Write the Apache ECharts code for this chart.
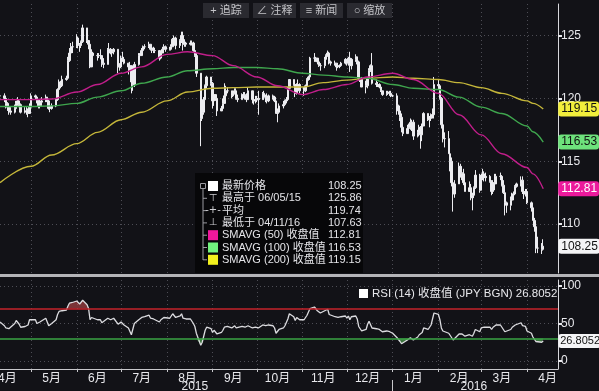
<!DOCTYPE html>
<html><head><meta charset="utf-8">
<script src="https://cdn.jsdelivr.net/npm/echarts@6/dist/echarts.min.js"></script>
<style>html,body{margin:0;padding:0;background:#121217;}#c{width:599px;height:391px;}</style>
</head><body><div id="c"></div>
<script>
// ---------- DATA ----------
const monthKeys = ['2015-04','2015-05','2015-06','2015-07','2015-08','2015-09','2015-10','2015-11','2015-12','2016-01','2016-02','2016-03','2016-04'];
const firstDayOfFirstMonth = 10;

const closes = [
 [120.2,120.0,119.6,119.3,119.0,118.9,119.2,119.6,119.8,119.5,118.9,119.0,119.0,118.8,119.3],
 [120.2,120.1,119.8,119.4,119.7,119.8,120.1,119.8,119.2,119.2,119.4,119.9,120.7,121.3,121.0,121.5,121.6,123.0,123.6,124.1,124.1],
 [124.8,124.3,124.2,124.5,125.6,124.6,124.3,122.5,123.6,123.4,123.4,123.4,123.4,122.8,122.7,123.9,123.9,123.6,123.7,123.9,122.5,122.5],
 [123.2,123.1,122.8,122.5,122.6,121.3,121.1,122.7,123.4,123.4,123.8,124.1,124.1,124.3,123.9,124.0,123.8,123.8,123.2,123.6,123.9,124.1,123.9],
 [123.9,124.1,124.7,124.8,124.2,124.6,125.0,124.3,124.4,124.3,124.4,124.4,123.8,123.4,122.0,118.4,118.9,119.9,121.0,121.7,121.2],
 [119.8,120.3,120.0,119.0,119.2,119.6,120.2,120.6,120.6,120.2,120.4,120.6,120.0,119.9,120.3,120.3,120.2,119.9,120.6,119.9,119.8,119.9],
 [120.0,119.9,120.4,120.1,120.1,119.8,120.2,120.1,119.8,118.8,118.9,119.4,119.5,119.8,119.9,120.8,121.5,121.1,120.4,121.1,121.1,120.6],
 [120.6,121.0,121.5,121.7,123.2,123.2,123.2,122.9,122.6,122.6,123.1,123.4,123.6,122.9,122.8,122.8,122.5,122.6,122.6,122.8,123.1],
 [122.8,123.2,122.6,123.1,123.3,122.9,121.6,121.5,120.9,121.0,121.6,122.2,122.6,121.2,121.1,121.1,120.9,120.6,120.3,120.4,120.5,120.4,120.2],
 [120.2,119.4,119.0,118.5,117.7,117.2,117.6,117.7,118.1,118.1,117.0,117.3,117.7,117.1,117.8,118.8,118.3,118.4,118.7,118.7,121.1],
 [121.0,120.0,117.9,116.8,116.8,115.6,115.0,113.3,112.4,113.2,114.6,114.1,114.0,113.3,112.6,112.9,112.1,112.3,112.9,113.9,112.7],
 [113.6,114.0,113.7,113.8,113.4,112.6,113.3,113.2,113.8,113.8,113.1,112.5,111.7,111.5,111.9,112.4,112.4,113.0,113.2,113.5,112.6,112.4,112.6],
 [111.7,111.3,110.3,109.8,108.1,108.1,108.0,108.25]
];
const highs = [
 [120.9,120.4,120.1,119.7,119.4,119.3,119.5,119.8,120.1,119.9,119.6,119.3,119.3,119.2,119.6],
 [120.4,120.3,120.2,119.9,119.9,120.1,120.3,120.1,119.9,119.4,119.6,120.0,120.8,121.5,121.4,121.8,121.8,123.3,124.0,124.4,124.5],
 [125.1,124.9,124.4,124.6,125.86,125.5,124.6,124.4,123.9,123.7,123.6,123.6,123.9,123.4,123.2,124.0,124.4,124.0,123.9,124.0,123.7,122.8],
 [123.4,123.7,123.3,122.8,122.9,122.6,121.7,122.9,123.6,123.6,124.0,124.2,124.3,124.5,124.3,124.1,124.1,124.0,123.8,123.7,124.1,124.3,124.2],
 [124.1,124.3,124.8,125.0,124.9,124.7,125.3,125.3,124.7,124.5,124.6,124.6,124.5,124.0,123.6,122.0,119.4,120.1,121.1,121.8,121.7],
 [121.3,120.5,120.3,120.0,119.4,120.0,121.2,121.0,120.9,120.6,120.6,120.8,120.8,120.3,120.4,120.5,120.5,120.4,120.9,120.6,120.0,120.2],
 [120.2,120.6,120.5,120.6,120.3,120.4,120.3,120.3,120.2,119.8,119.2,119.6,119.8,119.9,120.1,120.9,121.5,121.4,121.2,121.2,121.5,121.2],
 [120.9,121.1,121.6,121.8,123.3,123.6,123.3,123.2,122.9,122.8,123.3,123.5,123.8,123.7,123.0,123.0,122.8,122.8,122.7,122.9,123.2],
 [123.1,123.3,123.7,123.2,123.5,123.3,123.0,121.9,121.7,121.4,121.7,122.4,122.7,123.6,121.5,121.3,121.2,120.9,120.5,120.6,120.6,120.6,120.6],
 [120.3,120.4,119.5,119.1,118.8,118.1,117.9,118.0,118.4,118.3,118.3,117.5,117.9,117.8,118.0,118.9,118.8,118.6,118.8,119.2,121.7],
 [121.5,121.1,120.1,118.0,117.3,117.4,115.8,115.3,113.5,113.5,114.9,114.8,114.4,114.4,113.4,113.4,113.2,112.5,113.0,114.3,114.0],
 [113.9,114.4,114.2,114.1,113.9,113.5,113.5,114.0,114.0,114.1,113.9,113.5,112.5,111.8,112.2,112.5,112.6,113.1,113.3,113.8,113.8,112.9,112.8],
 [112.8,111.8,111.4,110.5,110.0,109.0,108.5,108.8]
];
const lows = [
 [119.8,119.7,119.2,119.0,118.7,118.7,118.8,119.1,119.4,119.3,118.8,118.8,118.7,118.5,118.8],
 [119.2,119.9,119.6,119.2,119.2,119.4,119.7,119.7,119.1,118.9,119.1,119.3,119.8,120.6,120.8,120.9,121.4,121.6,122.9,123.5,123.6],
 [124.0,124.0,123.7,124.0,124.4,124.4,123.9,122.4,122.5,123.2,123.0,123.2,123.1,122.5,122.4,123.1,123.6,123.5,123.3,123.5,122.0,122.2],
 [122.4,122.9,122.7,121.9,122.2,120.4,120.6,120.9,122.6,123.1,123.4,123.6,123.9,124.0,123.8,123.6,123.6,123.6,123.0,123.1,123.6,123.7,123.7],
 [123.8,123.8,124.1,124.6,123.9,124.0,124.4,123.8,124.1,124.1,124.2,124.2,123.7,123.3,121.7,116.2,118.2,118.7,119.9,120.8,121.0],
 [119.2,119.4,119.8,118.6,119.0,119.1,119.6,120.0,120.4,120.0,120.1,120.3,119.9,119.7,119.9,120.0,119.9,119.7,119.9,119.6,119.5,119.6],
 [119.7,118.7,119.9,119.9,119.7,119.6,119.7,119.9,119.7,118.8,118.1,118.9,119.2,119.4,119.6,119.8,120.8,121.0,120.1,120.3,120.8,120.4],
 [120.2,120.5,120.9,121.4,121.5,122.9,122.9,122.7,122.5,122.2,122.4,123.0,123.3,122.7,122.6,122.6,122.2,122.4,122.4,122.5,122.7],
 [122.6,122.6,122.1,122.3,122.9,122.7,121.4,121.3,120.9,120.4,120.8,121.4,122.1,121.1,120.9,120.9,120.8,120.5,120.2,120.2,120.3,120.2,120.1],
 [120.1,118.7,118.7,118.2,117.3,117.0,117.2,117.3,117.5,117.4,116.7,116.9,117.2,116.0,116.6,117.8,118.2,117.7,118.2,118.4,118.4],
 [120.7,119.9,117.6,116.5,116.1,115.6,114.2,113.0,111.0,112.1,113.5,113.7,113.5,113.1,112.6,112.6,111.9,111.1,112.1,112.8,112.5],
 [112.8,113.5,113.4,113.4,113.3,112.3,112.4,112.7,113.2,113.5,113.0,112.4,110.7,110.9,111.1,111.8,111.9,112.3,112.9,113.0,112.4,112.0,112.2],
 [111.6,111.0,110.3,109.4,107.7,107.7,107.63,107.9]
];
const rsi = [
 [52,47,44,42,43,42,50,54,55,49,45,46,44,48,55],
 [56,55,50,49,52,53,57,55,47,46,50,55,62,66,64,67,68,73,77,79,78],
 [80,78,76,77,81,75,70,55,58,56,55,54,55,51,50,57,57,55,55,57,49,48],
 [52,51,48,44,45,35,35,50,55,55,58,60,59,61,57,58,56,56,52,55,57,58,57],
 [57,59,63,63,58,60,63,57,57,56,56,55,50,46,37,21,25,33,41,45,43],
 [38,41,40,36,38,41,45,46,46,44,45,47,44,44,46,46,45,44,47,44,44,45],
 [45,44,48,47,47,45,48,47,44,37,38,42,44,47,48,56,63,59,54,58,58,55],
 [55,58,61,63,70,72,70,67,65,64,67,68,69,62,60,59,57,58,58,59,60],
 [57,60,55,59,60,56,46,44,40,42,49,53,55,44,43,43,42,40,39,40,40,39,38],
 [37,31,29,26,23,24,28,29,31,31,28,32,35,33,38,44,42,44,48,50,64],
 [62,55,44,40,40,37,35,31,28,30,36,35,36,35,33,35,33,33,37,42,39],
 [44,46,45,46,45,42,45,45,48,48,45,42,39,39,42,45,45,48,49,51,47,45,46],
 [40,37,32,30,26,26,25,26.8052]
];
const smaDates = ['2015-04-10','2015-05-01','2015-05-15','2015-06-01','2015-06-15','2015-07-01','2015-07-15','2015-08-01','2015-08-15','2015-09-01','2015-09-15','2015-10-01','2015-10-15','2015-11-01','2015-11-15','2015-12-01','2015-12-15','2016-01-01','2016-01-15','2016-02-01','2016-02-15','2016-03-01','2016-03-15','2016-04-01','2016-04-05','2016-04-12'];
const sma50  = [119.9,119.9,119.95,120.5,121.1,122.0,122.5,123.5,123.7,123.4,122.6,121.7,121.0,120.3,120.7,121.1,121.7,122.0,121.5,120.4,118.7,117.1,115.6,114.5,114.0,112.81];
const sma100 = [119.35,119.35,119.4,119.6,120.1,120.6,121.2,121.7,122.2,122.35,122.45,122.45,122.35,122.0,121.85,121.7,121.6,121.1,120.8,120.7,120.1,119.3,118.8,117.8,117.35,116.53];
const sma200 = [113.3,114.6,115.5,116.4,117.3,118.3,118.9,119.8,120.5,120.8,120.85,120.9,120.9,120.9,121.25,121.45,121.6,121.7,121.6,121.5,121.25,120.85,120.4,119.8,119.6,119.15];

const priceTicks = [110,115,120,125];
const rsiTicks = [0,50,100];
const monthStarts = ['2015-05-01','2015-06-01','2015-07-01','2015-08-01','2015-09-01','2015-10-01','2015-11-01','2015-12-01','2016-01-01','2016-02-01','2016-03-01','2016-04-01'];
const monthLabelDates = ['2015-04-15','2015-05-15','2015-06-15','2015-07-15','2015-08-15','2015-09-15','2015-10-15','2015-11-15','2015-12-15','2016-01-15','2016-02-15','2016-03-15','2016-04-15'];
const monthLabels = ['4月','5月','6月','7月','8月','9月','10月','11月','12月','1月','2月','3月','4月'];
const yearLabelDates = ['2015-08-20','2016-02-25'];
const yearLabels = ['2015','2016'];
const yearBoundary = ['2016-01-01'];
const axisMin = '2015-04-10', axisMax = '2016-04-22';

// ---------- BUILD ----------
function ts(s){const p=s.split('-').map(Number);return new Date(p[0],p[1]-1,p[2]).getTime();}
function tradingDays(key,startDay,n){
  const p=key.split('-').map(Number);const out=[];let d=startDay;
  while(out.length<n){const dt=new Date(p[0],p[1]-1,d);if(dt.getMonth()!==p[1]-1)break;const w=dt.getDay();if(w!==0&&w!==6)out.push(dt.getTime());d++;}
  return out;
}
const candle=[], rsiData=[], rsiHi=[], rsiLo=[];
let prev=null, lastT=0, lastClose=0, lastRsi=0;
monthKeys.forEach((k,mi)=>{
  const days=tradingDays(k, mi===0?firstDayOfFirstMonth:1, closes[mi].length);
  days.forEach((t,j)=>{
    const c=closes[mi][j]; const o=prev==null?c:prev;
    const lo=Math.min(lows[mi][j],o,c), hi=Math.max(highs[mi][j],o,c);
    candle.push([t,o,c,lo,hi]); prev=c; lastT=t; lastClose=c;
    const r=rsi[mi][j]; rsiData.push([t,r]); rsiHi.push([t,Math.max(r,70)]); rsiLo.push([t,Math.min(r,30)]); lastRsi=r;
  });
});
const smaSeries=(vals)=>smaDates.map((d,i)=>[ts(d),vals[i]]);
const monthLabelTs=monthLabelDates.map(ts), yearLabelTs=yearLabelDates.map(ts);

const gridLine={show:true,lineStyle:{color:'#4d4d55',type:[1,3],width:1}};
const tag=(bg,fg)=>({show:true,formatter:p=>(Array.isArray(p.value)?p.value[1]:p.value).toFixed(2),backgroundColor:bg,color:fg,fontSize:12,fontFamily:'Liberation Sans, Arial',padding:[2,2,1,3],borderRadius:3,distance:15});

const chart=echarts.init(document.getElementById('c'),null,{renderer:'canvas'});
const legendRows=[
 {icon:'sq',color:'#ffffff',text:'最新价格',value:lastClose.toFixed(2)},
 {icon:'⊤',text:'最高于 06/05/15',value:'125.86'},
 {icon:'-+-',text:'平均',value:'119.74'},
 {icon:'⊥',text:'最低于 04/11/16',value:'107.63'},
 {icon:'sq',color:'#f0189c',text:'SMAVG (50) 收盘值',value:'112.81'},
 {icon:'sq',color:'#72f27e',text:'SMAVG (100) 收盘值',value:'116.53'},
 {icon:'sq',color:'#f2f01e',text:'SMAVG (200) 收盘值',value:'119.15'}
];
const fontCJK='"Liberation Sans","Noto Sans CJK SC",sans-serif';
const g=[];
g.push({type:'rect',shape:{x:0,y:274,width:599,height:3},style:{fill:'#b4b4b8'},z:10});
[['+ 追踪',203,46],['∠ 注释',253,43],['≡ 新闻',300,43],['○ 缩放',347,45]].forEach(b=>{
  g.push({type:'rect',shape:{x:b[1],y:3,width:b[2],height:15},style:{fill:'#2a2a30'},z:10});
  g.push({type:'text',x:b[1]+b[2]/2,y:11,style:{text:b[0],fill:'#c4c4c8',font:'11px '+fontCJK,align:'center',verticalAlign:'middle'},z:11});
});
g.push({type:'rect',shape:{x:195,y:173,width:168,height:100},style:{fill:'#070709'},z:10});
g.push({type:'rect',shape:{x:200.5,y:183.5,width:5,height:5},style:{fill:'none',stroke:'#9a9aa0',lineWidth:1},z:11});
g.push({type:'line',shape:{x1:203,y1:189,x2:203,y2:260},style:{stroke:'#9a9aa0',lineWidth:1},z:11});
legendRows.forEach((r,i)=>{
  const y=186+i*12.3;
  if(i>0) g.push({type:'line',shape:{x1:203,y1:y,x2:207,y2:y},style:{stroke:'#9a9aa0',lineWidth:1},z:11});
  if(r.icon==='sq') g.push({type:'rect',shape:{x:208,y:y-5,width:10,height:10},style:{fill:r.color},z:11});
  else g.push({type:'text',x:213,y:y,style:{text:r.icon,fill:'#d0d0d4',font:'10px "DejaVu Sans"',align:'center',verticalAlign:'middle'},z:11});
  g.push({type:'text',x:222,y:y,style:{text:r.text,fill:'#e4e4e8',font:'11px '+fontCJK,verticalAlign:'middle'},z:11});
  g.push({type:'text',x:328,y:y,style:{text:r.value,fill:'#e4e4e8',font:'11px '+fontCJK,verticalAlign:'middle'},z:11});
});
g.push({type:'rect',shape:{x:359,y:289,width:9,height:9},style:{fill:'#ffffff'},z:11});
g.push({type:'text',x:372,y:294,style:{text:'RSI (14) 收盘值 (JPY BGN) '+lastRsi,fill:'#e8e8ec',font:'11.5px '+fontCJK,verticalAlign:'middle'},z:11});

const xBase={type:'value',min:ts(axisMin),max:ts(axisMax),scale:true};
chart.setOption({
  animation:false,
  backgroundColor:'#121217',
  grid:[
    {left:0,right:41,top:4,height:269,outerBoundsMode:'none',containLabel:false},
    {left:0,right:41,top:280,height:89,outerBoundsMode:'none',containLabel:false}
  ],
  xAxis:[
    Object.assign({},xBase,{gridIndex:0,axisLine:{show:false},axisLabel:{show:false},axisTick:{show:false,customValues:monthStarts.map(ts)},splitLine:gridLine}),
    Object.assign({},xBase,{gridIndex:1,axisLine:{show:true,onZero:false,lineStyle:{color:'#c8c8cc',width:1}},
      axisTick:{show:true,length:3,inside:false,customValues:monthStarts.map(ts),lineStyle:{color:'#c8c8cc'}},
      axisLabel:{show:true,customValues:monthLabelTs,color:'#e8e8ec',fontSize:12,margin:4,fontFamily:fontCJK,
        formatter:v=>{const i=monthLabelTs.indexOf(v);return i>=0?monthLabels[i]:'';},hideOverlap:false},
      splitLine:gridLine}),
    Object.assign({},xBase,{gridIndex:1,position:'bottom',offset:11,axisLine:{show:false,onZero:false},
      axisTick:{show:true,length:14,customValues:yearBoundary.map(ts),lineStyle:{color:'#c8c8cc'}},
      axisLabel:{show:true,customValues:yearLabelTs,color:'#e8e8ec',fontSize:12,margin:1,fontFamily:fontCJK,
        formatter:v=>{const i=yearLabelTs.indexOf(v);return i>=0?yearLabels[i]:'';}},
      splitLine:{show:false}})
  ],
  yAxis:[
    {gridIndex:0,type:'value',position:'right',min:106.12,max:127.5,
      axisLine:{show:true,lineStyle:{color:'#d8d8dc',width:1}},
      axisTick:{show:true,length:4,customValues:priceTicks,lineStyle:{color:'#e8e8ec',width:2}},
      axisLabel:{show:true,customValues:priceTicks,color:'#e8e8ec',fontSize:12,margin:3,fontFamily:'Liberation Sans, Arial'},
      splitLine:gridLine},
    {gridIndex:1,type:'value',position:'right',min:-10.7,max:108,
      axisLine:{show:true,lineStyle:{color:'#d8d8dc',width:1}},
      axisTick:{show:true,length:4,customValues:rsiTicks,lineStyle:{color:'#e8e8ec',width:2}},
      axisLabel:{show:true,customValues:rsiTicks,color:'#e8e8ec',fontSize:12,margin:3,fontFamily:'Liberation Sans, Arial'},
      splitLine:gridLine}
  ],
  series:[
    {type:'line',name:'SMA200',xAxisIndex:0,yAxisIndex:0,data:smaSeries(sma200),showSymbol:false,smooth:0.35,smoothMonotone:'x',
      lineStyle:{color:'#c4b63a',width:1.4},endLabel:tag('#f2ee3c','#111')},
    {type:'line',name:'SMA100',xAxisIndex:0,yAxisIndex:0,data:smaSeries(sma100),showSymbol:false,smooth:0.35,smoothMonotone:'x',
      lineStyle:{color:'#3fa64e',width:1.4},endLabel:tag('#6ee27c','#111')},
    {type:'line',name:'SMA50',xAxisIndex:0,yAxisIndex:0,data:smaSeries(sma50),showSymbol:false,smooth:0.35,smoothMonotone:'x',
      lineStyle:{color:'#c01e8a',width:1.4},endLabel:tag('#ec1a9c','#fff')},
    {type:'candlestick',name:'Price',xAxisIndex:0,yAxisIndex:0,data:candle,encode:{x:0,y:[1,2,3,4]},barWidth:2,
      itemStyle:{color:'#ececf0',color0:'#ececf0',borderColor:'#ececf0',borderColor0:'#ececf0',borderWidth:1},
      markPoint:{symbol:'circle',symbolSize:0,silent:true,data:[{coord:[lastT,lastClose],value:lastClose}],
        label:Object.assign(tag('#f4f4f6','#111'),{position:'right',formatter:()=>lastClose.toFixed(2)})}},
    {type:'line',name:'rsiHi',xAxisIndex:1,yAxisIndex:1,data:rsiHi,showSymbol:false,lineStyle:{width:0},
      areaStyle:{origin:70,color:'rgba(205,80,80,0.8)'},silent:true},
    {type:'line',name:'rsiLo',xAxisIndex:1,yAxisIndex:1,data:rsiLo,showSymbol:false,lineStyle:{width:0},
      areaStyle:{origin:30,color:'rgba(90,185,90,0.85)'},silent:true},
    {type:'line',name:'RSI',xAxisIndex:1,yAxisIndex:1,data:rsiData,showSymbol:false,lineStyle:{color:'#dcdce0',width:1.3},
      endLabel:{show:true,formatter:()=>String(lastRsi),backgroundColor:'#f4f4f6',color:'#111',fontSize:11,fontFamily:'Liberation Sans, Arial',padding:[2,1,1,2],borderRadius:3,distance:15},
      markLine:{silent:true,symbol:'none',label:{show:false},data:[
        {yAxis:70,lineStyle:{color:'#c4232b',width:1.5,type:'solid'}},
        {yAxis:30,lineStyle:{color:'#3aa444',width:1.5,type:'solid'}}]}}
  ],
  graphic:g
});
</script></body></html>
